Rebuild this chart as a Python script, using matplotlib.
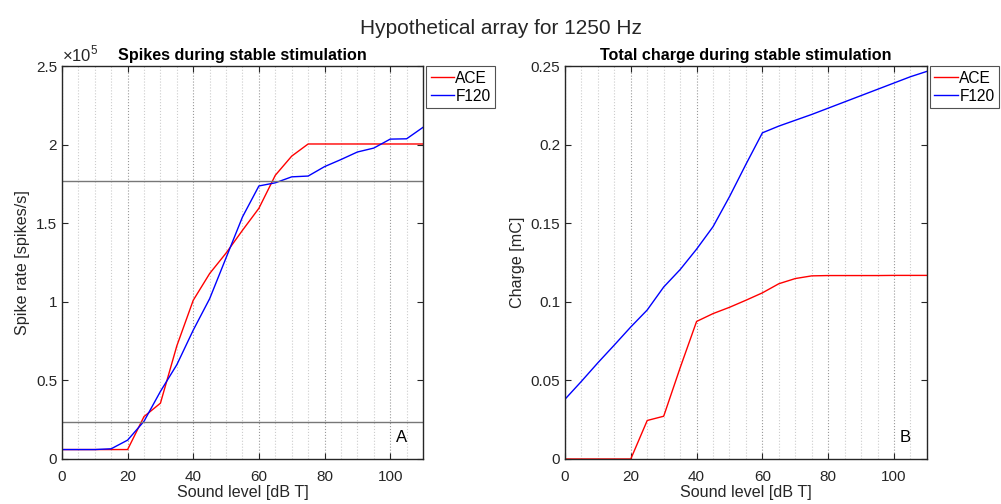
import numpy as np
import matplotlib
matplotlib.use('Agg')
import matplotlib.pyplot as plt
from matplotlib.ticker import MultipleLocator

# sound level steps (dB T)
levels = [0, 5, 10, 15, 20, 25, 30, 35, 40, 45, 50, 55,
          60, 65, 70, 75, 80, 85, 90, 95, 100, 105, 110]

# spike rates (spikes/s)
ace_spikes = [6000, 6000, 6000, 6000, 6000, 27000, 35500, 72000, 101000, 118000, 131000, 145500,
              159500, 180500, 192700, 200400, 200400, 200400, 200400, 200400, 200400, 200400, 200400]
f120_spikes = [6000, 6000, 6000, 6500, 12000, 24000, 43000, 60000, 82000, 102000, 128000, 154000,
               173700, 175700, 179500, 180000, 186000, 190500, 195300, 197800, 203500, 203700, 211000]
thresholds = [23300, 177000]

# total charge (mC)
ace_charge = [0, 0, 0, 0, 0, 0.0245, 0.0272, 0.058, 0.0875, 0.0925, 0.0965, 0.101,
              0.1057, 0.1115, 0.1148, 0.1165, 0.1167, 0.1167, 0.1167, 0.1167, 0.1168, 0.1168, 0.1168]
f120_charge = [0.038, 0.0494, 0.0612, 0.0725, 0.084, 0.0948, 0.1094, 0.1205, 0.1335, 0.1478, 0.1669, 0.1875,
               0.2075, 0.2118, 0.2155, 0.2192, 0.2232, 0.2272, 0.2312, 0.2352, 0.2392, 0.2432, 0.2466]

plt.rcParams['font.family'] = ['Liberation Sans', 'DejaVu Sans']
plt.rcParams['mathtext.fontset'] = 'custom'
plt.rcParams['mathtext.rm'] = 'Liberation Sans'
fig = plt.figure(figsize=(10.01, 5.04), dpi=100)
fig.suptitle('Hypothetical array for 1250 Hz', fontsize=15, y=0.962, color='#262626')

ax1 = fig.add_axes([0.0619, 0.0893, 0.3607, 0.7797])
ax2 = fig.add_axes([0.5644, 0.0893, 0.3616, 0.7797])

ax1.plot(levels, ace_spikes, color='red', lw=1, label='ACE')
ax1.plot(levels, f120_spikes, color='blue', lw=1, label='F120')
for t in thresholds:
    ax1.axhline(t, color='#777777', lw=1)
ax1.set_ylim(0, 2.5e5)
ax1.set_yticks([0, 0.5e5, 1e5, 1.5e5, 2e5, 2.5e5])
ax1.set_yticklabels(['0', '0.5', '1', '1.5', '2', '2.5'])
ax1.text(0.0, 1.005, r'$\times\mathrm{10}^\mathrm{5}$', transform=ax1.transAxes, fontsize=12,
         color='#262626', ha='left', va='bottom')
ax1.set_ylabel('Spike rate [spikes/s]', fontsize=11.6, color='#262626')
ax1.set_title('Spikes during stable stimulation', fontsize=11.6, fontweight='bold', pad=4)
ax1.text(0.94, 0.035, 'A', transform=ax1.transAxes, fontsize=12, ha='center', va='bottom')

ax2.plot(levels, ace_charge, color='red', lw=1, label='ACE')
ax2.plot(levels, f120_charge, color='blue', lw=1, label='F120')
ax2.set_ylim(0, 0.25)
ax2.set_yticks([0, 0.05, 0.1, 0.15, 0.2, 0.25])
ax2.set_yticklabels(['0', '0.05', '0.1', '0.15', '0.2', '0.25'])
ax2.set_ylabel('Charge [mC]', fontsize=11.6, color='#262626')
ax2.set_title('Total charge during stable stimulation', fontsize=11.6, fontweight='bold', pad=4)
ax2.text(0.94, 0.035, 'B', transform=ax2.transAxes, fontsize=12, ha='center', va='bottom')

for ax in (ax1, ax2):
    ax.set_xlim(0, 110)
    ax.set_xticks([0, 20, 40, 60, 80, 100])
    ax.xaxis.set_minor_locator(MultipleLocator(5))
    ax.grid(True, axis='x', which='major', linestyle=':', color='#999999', lw=0.8)
    ax.grid(True, axis='x', which='minor', linestyle=':', color='#cccccc', lw=0.8)
    ax.set_axisbelow(True)
    ax.tick_params(direction='in', top=True, right=True, labelsize=11, colors='#262626',
                   length=4, width=0.8)
    ax.tick_params(axis='x', pad=8)
    ax.tick_params(which='minor', length=0)
    for s in ax.spines.values():
        s.set_color('#262626')
        s.set_linewidth(1.0)
    ax.set_xlabel('Sound level [dB T]', fontsize=11.6, color='#262626', labelpad=1)
    leg = ax.legend(loc='upper left', bbox_to_anchor=(1.008, 1.0), borderaxespad=0,
                    fontsize=11.2, frameon=True, fancybox=False, edgecolor='#262626',
                    handlelength=1.5, handletextpad=0.1, borderpad=0.3, labelspacing=0.2)
    leg.get_frame().set_linewidth(0.8)

fig.savefig('out.png', dpi=100)
